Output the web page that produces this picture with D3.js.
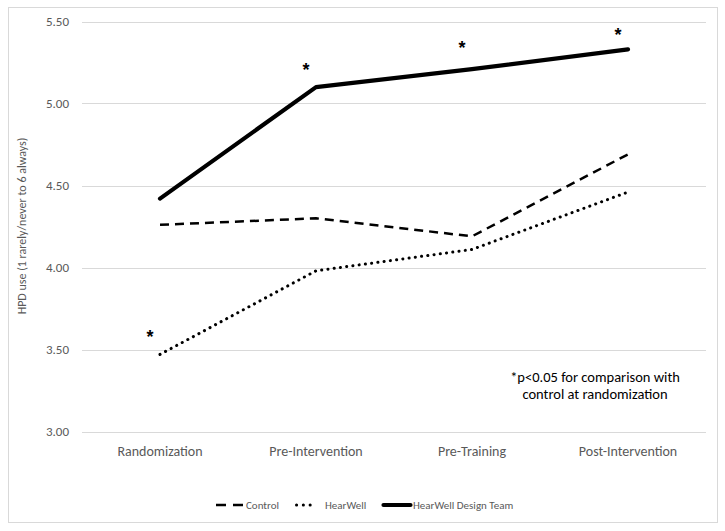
<!DOCTYPE html>
<html>
<head>
<meta charset="utf-8">
<script src="https://cdn.jsdelivr.net/npm/d3@7"></script>
<style>
  body { margin: 0; background: #fff; }
  text { font-family: Carlito, Calibri, Lato, "Liberation Sans", sans-serif; }
</style>
</head>
<body>
<script>
// chart data
var categories = ['Randomization', 'Pre-Intervention', 'Pre-Training', 'Post-Intervention'];
var control = [4.26, 4.30, 4.19, 4.69];
var hearWell = [3.47, 3.98, 4.11, 4.46];
var designTeam = [4.42, 5.10, 5.21, 5.33];
var yTicks = [3.00, 3.50, 4.00, 4.50, 5.00, 5.50];
// significance stars: category + y value of the star
var stars = [
  {cat: 'Randomization', v: 3.60},
  {cat: 'Pre-Intervention', v: 5.23},
  {cat: 'Pre-Training', v: 5.36},
  {cat: 'Post-Intervention', v: 5.44}
];

var W = 725, H = 531;
var svg = d3.select('body').append('svg').attr('width', W).attr('height', H);

// outer frame
svg.append('rect').attr('x', 8.5).attr('y', 7.5).attr('width', 709).attr('height', 515)
  .attr('fill', '#fff').attr('stroke', '#d9d9d9').attr('stroke-width', 1);

var x = d3.scaleBand().domain(categories).range([82, 706]);
var y = d3.scaleLinear().domain([3, 5.5]).range([431.5, 21.5]);

// grid
svg.append('g').selectAll('line').data(yTicks).enter().append('line')
  .attr('x1', 82).attr('x2', 706)
  .attr('y1', function(d) { return Math.round(y(d)) + 0.5; })
  .attr('y2', function(d) { return Math.round(y(d)) + 0.5; })
  .attr('stroke', '#d9d9d9').attr('stroke-width', 1);

// y axis labels
svg.append('g').selectAll('text').data(yTicks).enter().append('text')
  .attr('x', 69).attr('y', function(d) { return y(d) + 4.5; })
  .attr('text-anchor', 'end').attr('fill', '#595959').style('font-size', '13px')
  .text(function(d) { return d.toFixed(2); });

// x axis labels
svg.append('g').selectAll('text').data(categories).enter().append('text')
  .attr('x', function(d) { return x(d) + x.bandwidth() / 2; }).attr('y', 456)
  .attr('text-anchor', 'middle').attr('fill', '#595959').style('font-size', '14px')
  .text(function(d) { return d; });

// y title
svg.append('text').attr('transform', 'translate(26,226) rotate(-90)')
  .attr('text-anchor', 'middle').attr('fill', '#595959').style('font-size', '12px')
  .text('HPD use (1 rarely/never to 6 always)');

var line = d3.line()
  .x(function(d, i) { return x(categories[i]) + x.bandwidth() / 2; })
  .y(function(d) { return y(d); });

var series = [
  {name: 'Control', vals: control, width: 2.5, dash: '9,6', legDash: '10,7', cap: 'butt'},
  {name: 'HearWell', vals: hearWell, width: 3, dash: '0.1,6.2', legDash: '0.1,6.7', cap: 'round'},
  {name: 'HearWell Design Team', vals: designTeam, width: 4.2, dash: null, legDash: null, cap: 'round'}
];

series.forEach(function(s) {
  svg.append('path').datum(s.vals).attr('d', line)
    .attr('fill', 'none').attr('stroke', '#000')
    .attr('stroke-width', s.width)
    .attr('stroke-dasharray', s.dash)
    .attr('stroke-linecap', s.cap)
    .attr('stroke-linejoin', 'round');
});

// stars
svg.append('g').selectAll('text').data(stars).enter().append('text')
  .attr('x', function(d) { return x(d.cat) + x.bandwidth() / 2 - 10; })
  .attr('y', function(d) { return y(d.v) + 10; })
  .attr('text-anchor', 'middle').attr('fill', '#000')
  .style('font-family', '"Liberation Sans", sans-serif')
  .style('font-size', '18px').style('font-weight', 'bold')
  .text('*');

// note
var note = svg.append('text').attr('text-anchor', 'middle').attr('fill', '#000').style('font-size', '14.5px');
note.append('tspan').attr('x', 595).attr('y', 382).text('*p<0.05 for comparison with');
note.append('tspan').attr('x', 595).attr('y', 399).text('control at randomization');

// legend
var legX = [216, 295, 382];
var legW = [27, 20, 30];
var legText = [246, 325, 413];
series.forEach(function(s, i) {
  svg.append('line').attr('x1', legX[i] + (s.cap === 'round' ? 1.5 : 0)).attr('x2', legX[i] + legW[i] - (s.cap === 'round' ? 1.5 : 0))
    .attr('y1', 505).attr('y2', 505)
    .attr('stroke', '#000').attr('stroke-width', s.width)
    .attr('stroke-dasharray', s.legDash)
    .attr('stroke-linecap', s.cap);
  svg.append('text').attr('x', legText[i]).attr('y', 509)
    .attr('fill', '#595959').style('font-size', '11px').text(s.name);
});
</script>
</body>
</html>
